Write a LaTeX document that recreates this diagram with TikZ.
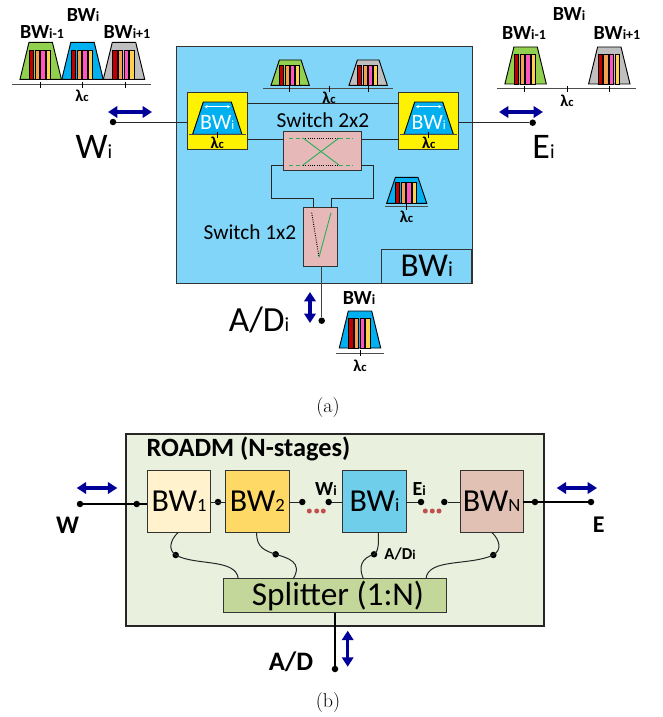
\documentclass[tikz,border=0pt]{standalone}
\usepackage{fontspec}
\setmainfont{Carlito}
\newfontfamily\serifcap{Latin Modern Roman}
\usetikzlibrary{arrows.meta,calc}
\definecolor{barr}{HTML}{C00000}
\definecolor{baro}{HTML}{F4A050}
\definecolor{barp}{HTML}{FF55C0}
\definecolor{bary}{HTML}{FFD050}
\definecolor{fgreen}{HTML}{92D050}
\definecolor{fblue}{HTML}{00B0F0}
\definecolor{fgray}{HTML}{BFBFBF}
\definecolor{skyb}{HTML}{80D5F9}
\definecolor{rosebox}{HTML}{E6B8B7}
\definecolor{xgreen}{HTML}{2EAF5F}
\definecolor{arrowblue}{HTML}{000099}
\definecolor{panel}{HTML}{E9F0DE}
\definecolor{splitc}{HTML}{C4D79B}
\definecolor{bwa}{HTML}{FFF2CC}
\definecolor{bwb}{HTML}{FFD966}
\definecolor{bwc}{HTML}{6FCFEB}
\definecolor{bwd}{HTML}{E1C1B4}
\definecolor{reddot}{HTML}{C0504D}
\newcommand\fs[1]{\fontsize{#1}{#1}\selectfont}
\newcommand\lab[4]{{\fs{#1}#3{\fs{#2}#4}}}
% filter: centre x, bottom y, x scale, y scale, colour
\newcommand\filt[5]{%
 \begin{scope}[shift={(#1,#2)},xscale=#3,yscale=#4]
  \draw[fill=#5,line width=.7pt] (-20.7,0) -- (-11.7,-37) -- (11.7,-37) -- (20.7,0) -- cycle;
  \draw[fill=barr,line width=.4pt] (-11.5,0) rectangle (-7.2,-29.3);
  \draw[fill=baro,line width=.4pt] (-5.7,0) rectangle (-1.4,-29.3);
  \draw[fill=barp,line width=.4pt] (0,0) rectangle (4.3,-29.3);
  \draw[fill=bary,line width=.4pt] (5.7,0) rectangle (10,-29.3);
 \end{scope}}
% axis: left, right, y
\newcommand\axis[3]{\draw[line width=.75pt,black!70] (#1,#3) -- (#2,#3);}
\newcommand\tick[2]{\draw[line width=.5pt] (#1,#2-3) -- (#1,#2+3);}
\newcommand\lamc[2]{\node[txt] (#1) at (#2) {\lab{12.5}{9.5}{\bfseries λ}{\bfseries c}};}
\newcommand\bwlab[1]{\lab{15}{10.5}{\bfseries BW}{\bfseries #1}}
\tikzset{
 x=.75pt,y=-.75pt,
 txt/.style={inner sep=0,outer sep=0,align=center},
 bx/.style 2 args={draw=black!80,line width=.75pt,inner sep=0,outer sep=0,minimum width=#1*.75pt,minimum height=#2*.75pt},
 dotn/.style={circle,fill=black,inner sep=0,outer sep=0,minimum size=6.5*.75pt},
 rdot/.style={circle,fill=reddot,inner sep=0,outer sep=0,minimum size=5*.75pt},
 wire/.style={line width=.75pt,black!85},
 heavy/.style={line width=1.6pt,black},
 twoway/.style={line width=2.6pt,arrowblue,{Triangle[length=7pt,width=8.5pt]}-{Triangle[length=7pt,width=8.5pt]}},
}
\begin{document}
\begin{tikzpicture}
\useasboundingbox (0,0) rectangle (662,717);
%% ---------- (a) ----------
\node[bx={296}{236},fill=skyb] (main) at (324,165) {};
\node[bx={90.3}{33.7},fill=skyb] (tag) at (426.8,266.2) {\lab{25}{16}{BW}{i}};
% top-left spectrum
\filt{40.7}{79.3}{1}{1}{fgreen}
\filt{82.5}{79.3}{1}{1}{fblue}
\filt{124}{79.3}{1}{1}{fgray}
\axis{12}{151}{84.7}
\tick{40.7}{84.7}\tick{82}{84.7}\tick{125}{84.7}
\lamc{la}{82,96}
\node[txt] (t1) at (83,15) {\bwlab{i}};
\node[txt] (t2) at (42,32) {\bwlab{i-1}};
\node[txt] (t3) at (127,32) {\bwlab{i+1}};
% top-right spectrum
\filt{525.6}{84}{1}{1}{fgreen}
\filt{609.3}{84}{1}{1}{fgray}
\axis{497.3}{636}{89}
\tick{524.3}{89}\tick{567.3}{89}\tick{609.3}{89}
\lamc{lb}{567,101}
\node[txt] (t4) at (569,14) {\bwlab{i}};
\node[txt] (t5) at (524,33) {\bwlab{i-1}};
\node[txt] (t6) at (617,33) {\bwlab{i+1}};
% inner top spectrum
\filt{290.2}{85.3}{.925}{.684}{fgreen}
\filt{368.2}{85.3}{.925}{.684}{fgray}
\axis{263.3}{393.3}{88.7}
\tick{289.3}{88.7}\tick{329}{88.7}\tick{368.7}{88.7}
\lamc{lc}{329,97.5}
% yellow filter boxes
\node[bx={60}{57},fill=yellow] (yl) at (217.3,120.6) {};
\node[bx={60}{57},fill=yellow] (yr) at (428.7,120.6) {};
\foreach \c/\n in {217.3/ld,428.7/le}{
 \draw[fill=fblue,line width=.7pt] (\c-24.7,134.3) -- (\c-14,102) -- (\c+14,102) -- (\c+24.7,134.3) -- cycle;
 \draw[white,line width=.6pt,{Stealth[length=2.5pt,width=2.5pt]}-{Stealth[length=2.5pt,width=2.5pt]}] (\c-13,106.7) -- (\c+13,106.7);
 \node[txt,text=white] at (\c,122) {\lab{16.5}{9.5}{BW}{i}};
 \axis{\c-28.5}{\c+28.5}{134.5}
 \tick{\c}{134.5}
 \lamc{\n}{\c,143}
}
% switch 2x2
\node[bx={78}{39},fill=rosebox] (sw2) at (322.7,150.5) {};
\node[txt] (sw2t) at (323,120) {\fs{16}Switch 2x2};
\coordinate (swa) at (sw2.west |- 0,139);
\coordinate (swb) at (sw2.east |- 0,139);
\draw[wire] (yl.east |- 0,103.3) -- (yr.west |- 0,103.3);
\draw[wire] (yl.east |- swa) -- (swa);
\draw[wire] (swb) -- (yr.west |- swb);
\draw[xgreen,line width=.7pt,densely dashed] (289,138) -- (303,138) (339,138) -- (353,138) (289,165) -- (303,165) (339,165) -- (353,165);
\draw[black,line width=.7pt,densely dotted] (303,138) -- (339,138) (303,165) -- (339,165);
\draw[xgreen,line width=.7pt] (303,138) -- (339,165) (303,165) -- (339,138);
% switch 1x2
\node[bx={34}{58.6},fill=rosebox] (sw1) at (320.3,237) {};
\node[txt] (sw1t) at (250,232) {\fs{16}Switch 1x2};
\draw[wire] (sw2.west |- 0,165) -| (271.5,198.3) -| (sw1.north -| 313.7,0);
\draw[wire] (sw2.east |- 0,165) -| (373.3,198.3) -| (sw1.north -| 331,0);
\draw[black,line width=.7pt,densely dotted] (311.7,212.7) -- (319,257.3);
\draw[xgreen,line width=.7pt] (331,212.7) -- (319,257.3);
% small filter inside
\filt{406.7}{203.3}{.966}{.703}{fblue}
\axis{385}{428}{206.7}
\tick{406.7}{206.7}
\lamc{lf}{406.5,217}
% ports
\node[dotn] (wi) at (113,122) {};
\node[dotn] (ei) at (532.7,122.7) {};
\node[dotn] (adi) at (321.7,320.7) {};
\draw[wire] (wi) -- (yl.west |- wi);
\draw[wire] (yr.east |- ei) -- (ei);
\draw[line width=1pt,black!75] (sw1.south -| adi) -- (adi);
\draw[twoway] (108,112) -- (152,112);
\draw[twoway] (499,112) -- (543,112);
\draw[twoway] (310,292) -- (310,323);
\node[txt] (wit) at (94,147) {\lab{27}{15}{W}{i}};
\node[txt] (eit) at (543.5,147) {\lab{27}{15}{E}{i}};
\node[txt] (adit) at (259,320) {\lab{26.5}{15}{A/D}{i}};
% bottom filter
\filt{360}{348}{1}{1}{fblue}
\axis{336}{384}{353.3}
\tick{360}{353.3}
\lamc{lg}{360,366}
\node[txt] (t7) at (359,298) {\bwlab{i}};
\node[txt] (capa) at (328,408) {\serifcap\fs{15}(a)};
%% ---------- (b) ----------
\node[bx={418}{191.7},fill=panel,draw=black!85,line width=1.3pt] (roadm) at (335.2,529.9) {};
\node[txt,anchor=west] (rt) at (146.5,449) {\fs{19.8}\bfseries ROADM (N-stages)};
\node[bx={63.4}{61.6},fill=bwa] (b1) at (179,501.5) {\lab{24}{14}{BW}{1}};
\node[bx={63.4}{61.6},fill=bwb] (b2) at (257.3,501.5) {\lab{24}{14}{BW}{2}};
\node[bx={63.6}{61.6},fill=bwc] (bi) at (374.5,501.5) {\lab{24}{14}{BW}{i}};
\node[bx={63.4}{61.6},fill=bwd] (bn) at (491.7,501.5) {\lab{24}{14}{BW}{N}};
\node[bx={223.4}{34},fill=splitc] (spl) at (335,595.7) {\hspace*{4.5pt}\fs{25}Splitter (1:N)};
\node[dotn] (w) at (80,504) {};
\node[dotn] (e) at (591,502) {};
\node[dotn] (d0) at (136.7,504) {};
\node[dotn] (d1) at (218,502) {};
\node[dotn] (d2) at (302.3,502) {};
\node[dotn] (d3) at (328.7,502) {};
\node[dotn] (d4) at (421,502) {};
\node[dotn] (d5) at (444.3,502) {};
\node[dotn] (d6) at (535,502) {};
\node[dotn] (ad) at (335,669) {};
\draw[heavy] (w) -- (b1.west |- w);
\draw[heavy] (bn.east |- e) -- (e);
\draw[wire] (b1.east |- d1) -- (b2.west |- d1);
\draw[wire] (b2.east |- d2) -- (d2);
\draw[wire] (d3) -- (bi.west |- d3);
\draw[wire] (bi.east |- d4) -- (d4);
\draw[wire] (d5) -- (bn.west |- d5);
\draw[heavy] (spl.south -| ad) -- (ad);
\foreach \xx/\n in {309.3/r1,316.7/r2,323.3/r3,425.3/r4,432.3/r5,439/r6}
 \node[rdot] (\n) at (\xx,511) {};
\node[dotn] (c1) at (175.7,555) {};
\node[dotn] (c2) at (275.7,554.3) {};
\node[dotn] (c3) at (374,554.3) {};
\node[dotn] (c4) at (493.3,555) {};
\draw[wire] (b1.south -| 178.3,0) .. controls (170,540) and (168,550) .. (c1.center) .. controls (195,566) and (236,558) .. (spl.north -| 238.3,0);
\draw[wire] (b2.south -| 256.7,0) .. controls (256,548) and (266,551) .. (c2.center) .. controls (288,558) and (303,562) .. (spl.north -| 293.3,0);
\draw[wire] (bi.south -| 378.3,0) .. controls (379,545) and (378,552) .. (c3.center) .. controls (362,558) and (358,566) .. (spl.north -| 363.3,0);
\draw[wire] (bn.south -| 491.7,0) .. controls (500,540) and (502,550) .. (c4.center) .. controls (470,566) and (428,558) .. (spl.north -| 426,0);
\node[txt] (wl) at (326,489) {\lab{15}{10.5}{\bfseries W}{\bfseries i}};
\node[txt] (el) at (419.3,489) {\lab{15}{10.5}{\bfseries E}{\bfseries i}};
\node[txt] (adl) at (400,554.5) {\lab{12.5}{10}{\bfseries A/D}{\bfseries i}};
\node[txt] (wb) at (67.7,525) {\fs{19}\bfseries W};
\node[txt] (eb) at (598.7,525) {\fs{18}\bfseries E};
\node[txt] (adb) at (291,661.7) {\fs{20}\bfseries A/D};
\draw[twoway] (76.7,488) -- (117.3,488);
\draw[twoway] (556.7,488) -- (597,488);
\draw[twoway] (347.7,630.7) -- (347.7,666.7);
\node[txt] (capb) at (328,703) {\serifcap\fs{15}(b)};
\end{tikzpicture}
\end{document}
